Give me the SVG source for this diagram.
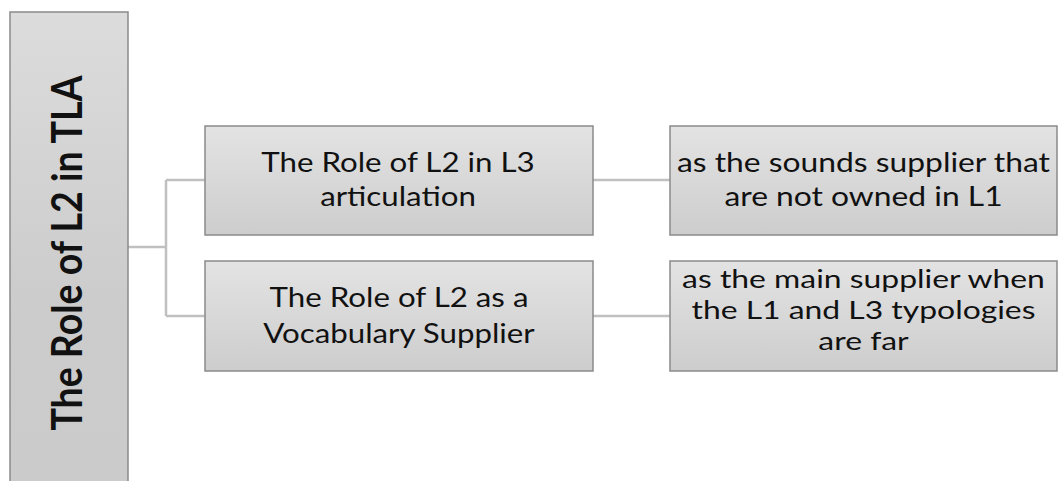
<svg xmlns="http://www.w3.org/2000/svg" width="1059" height="481" viewBox="0 0 1059 481">
<defs>
<linearGradient id="gBox" x1="0" y1="0" x2="0" y2="1">
<stop offset="0" stop-color="#e3e3e3"/>
<stop offset="1" stop-color="#cdcdcd"/>
</linearGradient>
<linearGradient id="gRoot" x1="0" y1="0" x2="0" y2="1">
<stop offset="0" stop-color="#dcdcdc"/>
<stop offset="0.6" stop-color="#cccccc"/>
<stop offset="1" stop-color="#cbcbcb"/>
</linearGradient>
</defs>
<style>
.box{fill:url(#gBox);stroke:#8a8a8a;stroke-width:1.5}
.root{fill:url(#gRoot);stroke:#8a8a8a;stroke-width:1.5}
.t{font-family:Lato,"Open Sans",sans-serif;font-size:26.5px;fill:#111;text-anchor:middle}
.t4{font-size:25.5px}
.rt{font-family:Lato,"Open Sans",sans-serif;font-size:37.5px;font-weight:bold;fill:#111;text-anchor:middle}
.c{fill:none;stroke:#c0c0c0;stroke-width:2.5}
</style>
<rect width="1059" height="481" fill="#ffffff"/>
<g id="connectors">
<path class="c" d="M128 247 H166 M166 180 V316 M166 180 H205 M166 316 H205"/>
<path class="c" d="M593 180 H670 M593 316 H670"/>
</g>
<g id="root">
<rect class="root" x="10" y="12" width="118" height="478"/>
<g transform="translate(82,253) scale(1.1,1) rotate(-90)">
<text class="rt" x="0" y="0">The Role of L2 in TLA</text>
</g>
</g>
<g id="n1">
<rect class="box" x="205" y="126" width="388" height="109"/>
<g transform="translate(398,0) scale(1.18,1)">
<text class="t" x="0" y="172">The Role of L2 in L3<tspan x="0" dy="34">articulation</tspan></text>
</g>
</g>
<g id="n2">
<rect class="box" x="205" y="261" width="388" height="110"/>
<g transform="translate(399,0) scale(1.18,1)">
<text class="t" x="0" y="307">The Role of L2 as a<tspan x="0" dy="36">Vocabulary Supplier</tspan></text>
</g>
</g>
<g id="n3">
<rect class="box" x="670" y="126" width="387" height="109"/>
<g transform="translate(863.5,0) scale(1.2,1)">
<text class="t" x="0" y="172">as the sounds supplier that<tspan x="0" dy="34">are not owned in L1</tspan></text>
</g>
</g>
<g id="n4">
<rect class="box" x="670" y="261" width="387" height="110"/>
<g transform="translate(863.5,0) scale(1.25,1)">
<text class="t t4" x="0" y="288">as the main supplier when<tspan x="0" dy="31">the L1 and L3 typologies</tspan><tspan x="0" dy="31">are far</tspan></text>
</g>
</g>
</svg>
